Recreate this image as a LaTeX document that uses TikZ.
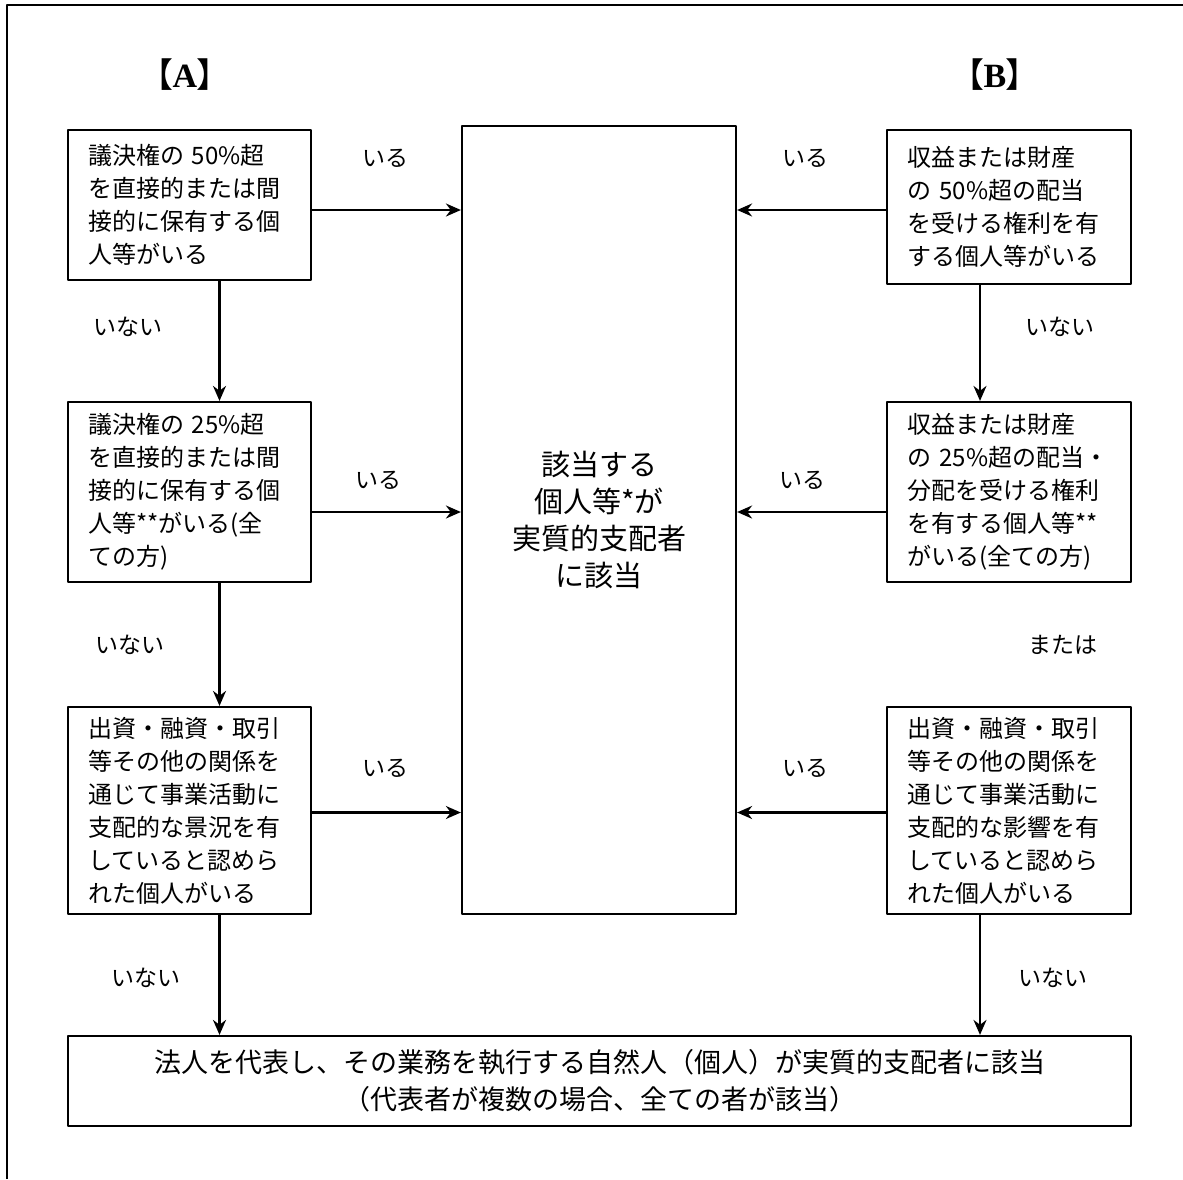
\documentclass[tikz,border=0pt]{standalone}
\usepackage{fontspec}
\setmainfont{Noto Sans CJK JP}
\newfontfamily\headserif{Liberation Serif}
\usetikzlibrary{arrows.meta}
\tikzset{
  stepbox/.style={draw,line width=1.1pt,minimum width=121.5pt,inner xsep=10pt,inner ysep=0pt,
    text width=101.5pt,align=left,font=\fontsize{12}{16.5}\selectfont},
  mainbox/.style={draw,line width=1.1pt,align=center},
  lbl/.style={font=\fontsize{11.5}{13}\selectfont},
  head/.style={font=\fontsize{17}{19}\selectfont}
}
\begin{document}
\begin{tikzpicture}[x=0.5pt,y=-0.5pt,>={Stealth[length=7.5pt,width=6.5pt]},line join=round]
			\useasboundingbox (0,0) rectangle (1183,1179);
			\draw[line width=1.2pt] (7,1179)--(7,5)--(1183,5);
			% headings
			\node[head] (hA) at (185,75) {【\kern-0.5pt{\headserif\bfseries A}\kern-0.5pt】};
			\node[head] (hB) at (995,75) {【\kern-0.5pt{\headserif\bfseries B}\kern-0.5pt】};
			% column A
			\node[stepbox,minimum height=75pt] (A1) at (189.5,205) {議決権の 50\%超\\を直接的または間\\接的に保有する個\\人等がいる};
			\node[stepbox,minimum height=90pt] (A2) at (189.5,492) {議決権の 25\%超\\を直接的または間\\接的に保有する個\\人等**がいる(全\\ての方)};
			\node[stepbox,minimum height=103.5pt] (A3) at (189.5,810.5) {出資・融資・取引\\等その他の関係を\\通じて事業活動に\\支配的な景況を有\\していると認めら\\れた個人がいる};
			% column B
			\node[stepbox,minimum height=77pt,minimum width=122pt] (B1) at (1009,207) {収益または財産\\の 50\%超の配当\\を受ける権利を有\\する個人等がいる};
			\node[stepbox,minimum height=90pt,minimum width=122pt] (B2) at (1009,492) {収益または財産\\の 25\%超の配当・\\分配を受ける権利\\を有する個人等**\\がいる(全ての方)};
			\node[stepbox,minimum height=103.5pt,minimum width=122pt] (B3) at (1009,810.5) {出資・融資・取引\\等その他の関係を\\通じて事業活動に\\支配的な影響を有\\していると認めら\\れた個人がいる};
			% centre and bottom
			\node[mainbox,minimum width=137pt,minimum height=394pt,font=\fontsize{14.5}{18.5}\selectfont] (C) at (599,520) {該当する\\個人等*が\\実質的支配者\\に該当};
			\node[mainbox,minimum width=531.5pt,minimum height=45pt,font=\fontsize{13.5}{18.5}\selectfont] (D) at (599.5,1081) {法人を代表し、その業務を執行する自然人（個人）が実質的支配者に該当\\（代表者が複数の場合、全ての者が該当）};
			% arrows to centre
			\draw[->,line width=1.1pt] ([yshift=-2.5pt]A1.east) -- ([yshift=-2.5pt]A1.east -| C.west);
			\draw[->,line width=1.1pt] ([yshift=-10pt]A2.east) -- ([yshift=-10pt]A2.east -| C.west);
			\draw[->,line width=1.1pt] ([yshift=-1pt]A3.east) -- ([yshift=-1pt]A3.east -| C.west);
			\draw[->,line width=1.1pt] ([yshift=-1.5pt]B1.west) -- ([yshift=-1.5pt]B1.west -| C.east);
			\draw[->,line width=1.1pt] ([yshift=-10pt]B2.west) -- ([yshift=-10pt]B2.west -| C.east);
			\draw[->,line width=1.1pt] ([yshift=-1pt]B3.west) -- ([yshift=-1pt]B3.west -| C.east);
			% downward arrows
			\draw[->,line width=1.1pt] ([xshift=15pt]A1.south) -- ([xshift=15pt]A2.north);
			\draw[->,line width=1.1pt] ([xshift=15pt]A2.south) -- ([xshift=15pt]A3.north);
			\draw[->,line width=1.1pt] ([xshift=15pt]A3.south) -- ([xshift=15pt]A3.south |- D.north);
			\draw[->,line width=1.1pt] ([xshift=-14.5pt]B1.south) -- ([xshift=-14.5pt]B2.north);
			\draw[->,line width=1.1pt] ([xshift=-14.5pt]B3.south) -- ([xshift=-14.5pt]B3.south |- D.north);
			% labels
			\node[lbl] (l1) at (385,158) {いる};
			\node[lbl] (l2) at (378,480) {いる};
			\node[lbl] (l3) at (385,768) {いる};
			\node[lbl] (r1) at (805,158) {いる};
			\node[lbl] (r2) at (802,480) {いる};
			\node[lbl] (r3) at (805,768) {いる};
			\node[lbl] (n1) at (128,327) {いない};
			\node[lbl] (n2) at (130,645) {いない};
			\node[lbl] (n3) at (146,978) {いない};
			\node[lbl] (m1) at (1060,327) {いない};
			\node[lbl] (m2) at (1063,645) {または};
			\node[lbl] (m3) at (1053,978) {いない};
		\end{tikzpicture}
\end{document}
